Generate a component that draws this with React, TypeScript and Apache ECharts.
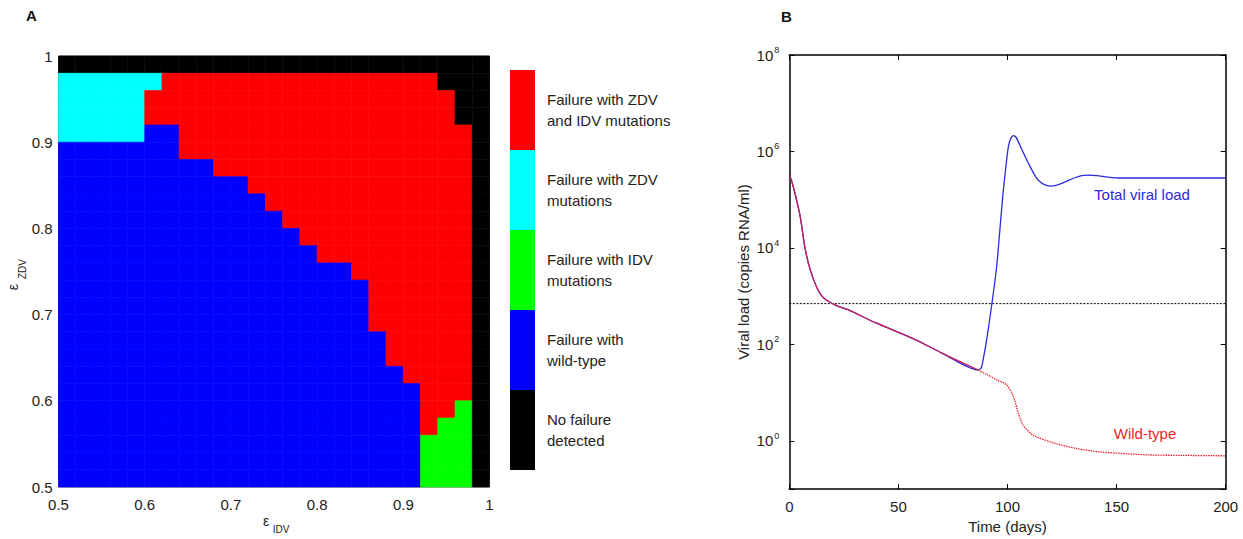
import React, { useEffect, useRef } from 'react';
import * as echarts from 'echarts';

// ---------- Panel A data ----------
const epsStart = 0.5;
const epsStep = 0.02;
// rows: top (eps_ZDV 0.98-1.00) to bottom (0.50-0.52); columns: eps_IDV 0.50-0.52 ... 0.98-1.00
// K = no failure, B = wild-type, G = IDV mutations, C = ZDV mutations, R = ZDV+IDV mutations
const outcomeRows = [
  'KKKKK KKKKK KKKKK KKKKK KKKKK',
  'CCCCC CRRRR RRRRR RRRRR RRKKK',
  'CCCCC RRRRR RRRRR RRRRR RRRKK',
  'CCCCC RRRRR RRRRR RRRRR RRRKK',
  'CCCCC BBRRR RRRRR RRRRR RRRRK',
  'BBBBB BBRRR RRRRR RRRRR RRRRK',
  'BBBBB BBBBR RRRRR RRRRR RRRRK',
  'BBBBB BBBBB BRRRR RRRRR RRRRK',
  'BBBBB BBBBB BBRRR RRRRR RRRRK',
  'BBBBB BBBBB BBBRR RRRRR RRRRK',
  'BBBBB BBBBB BBBBR RRRRR RRRRK',
  'BBBBB BBBBB BBBBB RRRRR RRRRK',
  'BBBBB BBBBB BBBBB BBRRR RRRRK',
  'BBBBB BBBBB BBBBB BBBRR RRRRK',
  'BBBBB BBBBB BBBBB BBBRR RRRRK',
  'BBBBB BBBBB BBBBB BBBRR RRRRK',
  'BBBBB BBBBB BBBBB BBBBR RRRRK',
  'BBBBB BBBBB BBBBB BBBBR RRRRK',
  'BBBBB BBBBB BBBBB BBBBB RRRRK',
  'BBBBB BBBBB BBBBB BBBBB BRRRK',
  'BBBBB BBBBB BBBBB BBBBB BRRGK',
  'BBBBB BBBBB BBBBB BBBBB BRGGK',
  'BBBBB BBBBB BBBBB BBBBB BGGGK',
  'BBBBB BBBBB BBBBB BBBBB BGGGK',
  'BBBBB BBBBB BBBBB BBBBB BGGGK',
];
const outcomeCodes = ['K', 'B', 'G', 'C', 'R'];
const outcomeLabels = [
  'No failure\ndetected',
  'Failure with\nwild-type',
  'Failure with IDV\nmutations',
  'Failure with ZDV\nmutations',
  'Failure with ZDV\nand IDV mutations',
];
const outcomeColors = ['#000000', '#0000ff', '#00ff00', '#00ffff', '#ff0000'];

// ---------- Panel B data ----------
const earlyTime = [0, 1, 2.5, 5, 7.2, 9.5, 12.6, 15.6, 20.9, 26.3, 40, 56.8, 70, 86.6];
const earlyLoad = [331000, 251000, 141000, 44700, 10000, 3630, 1510, 933, 661, 537, 275, 132, 66, 29.5];
const wildLateTime = [90, 95, 99.6, 102.8, 105.1, 107.4, 112, 122.5, 132, 142.4, 155, 165.3, 180, 200];
const wildLateLoad = [24.5, 18.6, 14.5, 8.1, 3.6, 2.04, 1.29, 0.87, 0.69, 0.59, 0.54, 0.51, 0.5, 0.49];
const totalLateTime = [88, 88.9, 90.5, 92.8, 95, 97.3, 98.1, 99.3, 100.4, 101.5, 102.7, 104, 105, 107, 110.3, 113, 115, 117.5, 120, 123, 126, 130, 134, 137, 141, 146, 152, 160, 200];
const totalLateLoad = [33, 50, 129, 676, 3980, 63100, 158000, 501000, 1260000, 1860000, 2140000, 1950000, 1580000, 1000000, 490000, 295000, 234000, 200000, 191000, 204000, 229000, 275000, 316000, 324000, 316000, 295000, 282000, 282000, 282000];
const thresholdTime = [0, 200];
const thresholdLoad = [700, 700];

const FONT = 'Arial, "Liberation Sans", Helvetica, sans-serif';
const FS = 15;

function buildCells() {
  const cells: number[][] = [];
  outcomeRows.forEach((rowStr, r) => {
    const row = rowStr.replace(/ /g, '');
    for (let i = 0; i < row.length; i++) {
      const code = outcomeCodes.indexOf(row[i]);
      const x0 = +(epsStart + i * epsStep).toFixed(4);
      const y0 = +(1 - (r + 1) * epsStep).toFixed(4);
      cells.push([x0, y0, code]);
    }
  });
  return cells;
}

const zip = (a: number[], b: number[]) => a.map((v, i) => [v, b[i]]);

export default function App() {
  const ref = useRef<HTMLDivElement>(null);
  useEffect(() => {
    if (!ref.current) return;
    const chart = echarts.init(ref.current, undefined, { renderer: 'svg' });
    const cells = buildCells();
    const earlyData = zip(earlyTime, earlyLoad);
    const totalData = earlyData.concat(zip(totalLateTime, totalLateLoad));
    const wildLateData = [earlyData[earlyData.length - 1]].concat(zip(wildLateTime, wildLateLoad));

    const tickAxisB = {
      axisLine: { show: true, onZero: false, lineStyle: { color: '#000', width: 1.5 } },
      axisTick: { show: true, inside: true, length: 5, lineStyle: { color: '#000', width: 1 } },
      splitLine: { show: false },
    };

    const supFmt = (v: number) => {
      if (v < 0.5) return '';
      const e = Math.round(Math.log10(v));
      return `{b|10}{s|${e}}`;
    };

    chart.setOption({
      animation: false,
      textStyle: { fontFamily: FONT },
      grid: [
        { left: 58.5, top: 56, width: 431, height: 431, show: true, borderColor: '#555', borderWidth: 1 },
        { left: 789.3, top: 55, width: 436.4, height: 436 },
      ],
      xAxis: [
        {
          gridIndex: 0, type: 'value', min: 0.5, max: 1, interval: 0.1,
          axisLine: { show: false }, axisTick: { show: false }, splitLine: { show: false },
          axisLabel: { fontSize: FS, color: '#222', margin: 10, formatter: (v: number) => String(+v.toFixed(1)) },
        },
        {
          gridIndex: 1, type: 'value', min: 0, max: 200, interval: 50, ...tickAxisB,
          axisLabel: { fontSize: FS, color: '#222', margin: 10 },
          name: 'Time (days)', nameLocation: 'middle', nameGap: 27,
          nameTextStyle: { fontSize: FS, color: '#222', fontFamily: FONT },
        },
        {
          gridIndex: 1, type: 'value', min: 0, max: 200, interval: 50, position: 'top', ...tickAxisB,
          axisLabel: { show: false },
        },
      ],
      yAxis: [
        {
          gridIndex: 0, type: 'value', min: 0.5, max: 1, interval: 0.1,
          axisLine: { show: false }, axisTick: { show: false }, splitLine: { show: false },
          axisLabel: { fontSize: FS, color: '#222', margin: 6, formatter: (v: number) => String(+v.toFixed(1)) },
        },
        {
          gridIndex: 1, type: 'log', logBase: 100, min: 0.1, max: 1e8, ...tickAxisB,
          axisLabel: {
            margin: 10, formatter: supFmt,
            rich: {
              b: { fontSize: FS, color: '#222', fontFamily: FONT },
              s: { fontSize: 9, color: '#222', fontFamily: FONT, padding: [0, 0, 10, 1] },
            },
          },
          name: 'Viral load (copies RNA/ml)', nameLocation: 'middle', nameGap: 38,
          nameTextStyle: { fontSize: FS, color: '#222', fontFamily: FONT },
        },
        {
          gridIndex: 1, type: 'log', logBase: 100, min: 0.1, max: 1e8, position: 'right', ...tickAxisB,
          axisLabel: { show: false },
        },
      ],
      visualMap: {
        type: 'piecewise', seriesIndex: 0, dimension: 2, orient: 'vertical',
        left: 495, top: 55, itemWidth: 25, itemHeight: 80, itemGap: 0, itemSymbol: 'rect',
        align: 'left', textGap: 12, selectedMode: false, hoverLink: false,
        textStyle: { fontSize: FS, color: '#222', lineHeight: 21, fontFamily: FONT },
        pieces: outcomeCodes.map((c, k) => ({ value: k, label: outcomeLabels[k], color: outcomeColors[k] })),
      },
      series: [
        {
          type: 'custom', xAxisIndex: 0, yAxisIndex: 0, data: cells, silent: true,
          renderItem: (params: any, api: any) => {
            const x = api.value(0), y = api.value(1);
            const p0 = api.coord([x, y + epsStep]);
            const p1 = api.coord([x + epsStep, y]);
            const col = api.visual('color');
            return {
              type: 'rect',
              shape: { x: p0[0], y: p0[1], width: p1[0] - p0[0], height: p1[1] - p0[1] },
              style: { fill: col, stroke: col, lineWidth: 0.6 },
            };
          },
        },
        {
          type: 'line', name: 'Threshold', xAxisIndex: 1, yAxisIndex: 1, data: zip(thresholdTime, thresholdLoad),
          symbol: 'none', lineStyle: { color: '#000', width: 1, type: [2, 1.5] }, silent: true, z: 2,
        },
        {
          type: 'line', name: 'Total viral load', xAxisIndex: 1, yAxisIndex: 1, data: totalData,
          symbol: 'none', smooth: 0.25, lineStyle: { color: '#2a2ae0', width: 1.3 }, silent: true, z: 3,
        },
        {
          type: 'line', name: 'Wild-type (overlapping total)', xAxisIndex: 1, yAxisIndex: 1, data: earlyData,
          symbol: 'none', smooth: 0.25, lineStyle: { color: '#c8205a', width: 1.3 }, silent: true, z: 4,
        },
        {
          type: 'line', name: 'Wild-type', xAxisIndex: 1, yAxisIndex: 1, data: wildLateData,
          symbol: 'none', smooth: 0.25, lineStyle: { color: '#ee1f2a', width: 1.3, type: [1.5, 1] }, silent: true, z: 4,
        },
      ],
      graphic: [
        { type: 'text', left: 26, top: 8, style: { text: 'A', fontSize: 15, fontWeight: 'bold', fill: '#111', fontFamily: FONT } },
        { type: 'text', left: 781, top: 9, style: { text: 'B', fontSize: 15, fontWeight: 'bold', fill: '#111', fontFamily: FONT } },
        { type: 'text', x: 266, y: 521, style: { text: 'ε', fontSize: 14, fill: '#222', align: 'center', verticalAlign: 'middle', fontFamily: FONT } },
        { type: 'text', x: 281, y: 529, style: { text: 'IDV', fontSize: 10, fill: '#222', align: 'center', verticalAlign: 'middle', fontFamily: FONT } },
        { type: 'text', x: 13, y: 287, rotation: Math.PI / 2, style: { text: 'ε', fontSize: 14, fill: '#222', align: 'center', verticalAlign: 'middle', fontFamily: FONT } },
        { type: 'text', x: 22, y: 269, rotation: Math.PI / 2, style: { text: 'ZDV', fontSize: 10, fill: '#222', align: 'center', verticalAlign: 'middle', fontFamily: FONT } },
        { type: 'text', x: 1142, y: 194, style: { text: 'Total viral load', fontSize: FS, fill: '#2a2ae0', align: 'center', verticalAlign: 'middle', fontFamily: FONT } },
        { type: 'text', x: 1145, y: 433, style: { text: 'Wild-type', fontSize: FS, fill: '#ee1f2a', align: 'center', verticalAlign: 'middle', fontFamily: FONT } },
      ],
    });
    return () => chart.dispose();
  }, []);
  return <div ref={ref} style={{ position: 'absolute', left: 0, top: 0, width: 1243, height: 539, background: '#fff' }} />;
}
